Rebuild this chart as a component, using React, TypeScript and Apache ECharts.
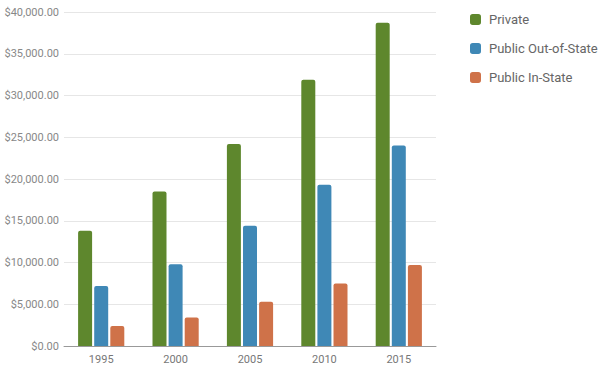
import React, { useEffect, useRef } from "react";
import * as echarts from "echarts";

const years = ["1995", "2000", "2005", "2010", "2015"];
const privateVals = [13800, 18500, 24200, 31900, 38700];
const publicOutVals = [7200, 9800, 14400, 19300, 24000];
const publicInVals = [2400, 3400, 5300, 7500, 9700];
const seriesNames = ["Private", "Public Out-of-State", "Public In-State"];
const colors = ["#5e872d", "#3f88b6", "#cf7249"];

export default function App() {
  const ref = useRef<HTMLDivElement>(null);
  useEffect(() => {
    if (!ref.current) return;
    const chart = echarts.init(ref.current, null, { renderer: "svg" });
    const mk = (name: string, data: number[], color: string) => ({
      name,
      type: "bar",
      data,
      barWidth: 14,
      barGap: "15%",
      itemStyle: { color, borderRadius: [2, 2, 0, 0] },
    });
    chart.setOption({
      animation: false,
      backgroundColor: "#ffffff",
      textStyle: { fontFamily: "Roboto" },
      legend: {
        orient: "vertical",
        left: 465,
        top: 8,
        itemWidth: 11,
        itemHeight: 11,
        itemGap: 16,
        icon: "roundRect",
        data: seriesNames,
        textStyle: { color: "#666", fontSize: 13, fontFamily: "Roboto", padding: [0, 0, 0, 3] },
      },
      grid: { left: 64, right: 173, top: 12, bottom: 22, containLabel: false, outerBoundsMode: "none" },
      xAxis: {
        type: "category",
        data: years,
        axisLine: { lineStyle: { color: "#999" } },
        axisTick: { show: false },
        axisLabel: { color: "#777", fontSize: 11, margin: 8 },
      },
      yAxis: {
        type: "value",
        min: 0,
        max: 40000,
        interval: 5000,
        axisLine: { show: false },
        axisTick: { show: false },
        splitLine: { lineStyle: { color: "#e6e6e6" } },
        axisLabel: {
          color: "#888",
          fontSize: 11,
          margin: 5,
          formatter: (v: number) =>
            "$" + v.toLocaleString("en-US", { minimumFractionDigits: 2, maximumFractionDigits: 2 }),
        },
      },
      series: [
        mk(seriesNames[0], privateVals, colors[0]),
        mk(seriesNames[1], publicOutVals, colors[1]),
        mk(seriesNames[2], publicInVals, colors[2]),
      ],
    });
    return () => chart.dispose();
  }, []);
  return <div ref={ref} style={{ width: 609, height: 368, position: "fixed", left: 0, top: 0 }} />;
}
